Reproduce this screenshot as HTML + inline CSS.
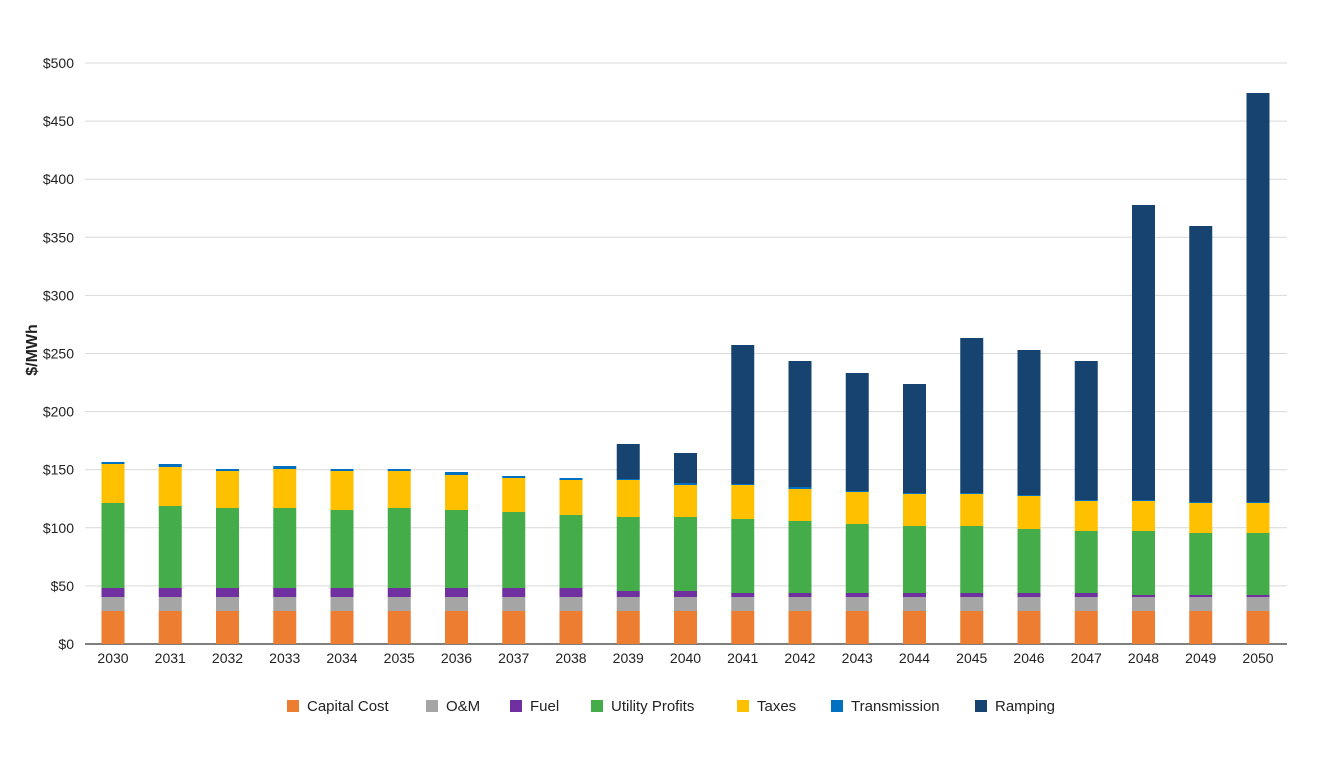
<!DOCTYPE html>
<html><head><meta charset="utf-8"><style>
body{margin:0;background:#fff;font-family:"Liberation Sans",sans-serif}
svg text{font-family:"Liberation Sans",sans-serif;fill:#222}
</style></head><body>
<svg id="s" width="1320" height="755" xmlns="http://www.w3.org/2000/svg"></svg>
<script>
const s=document.getElementById('s');let h='';
for(let k=0;k<=10;k++){const y=644-58.1*k;
 if(k>0)h+=`<line x1="85" x2="1287" y1="${y}" y2="${y}" stroke="#d9d9d9" stroke-width="1"/>`;
 h+=`<text x="74" y="${y+5}" font-size="14" text-anchor="end">$${k*50}</text>`;}
h+=`<line x1="85" x2="1287" y1="644" y2="644" stroke="#333" stroke-width="1.2"/>`;
h+=`<text transform="translate(37,350) rotate(-90)" font-size="16" font-weight="bold" text-anchor="middle">$/MWh</text>`;
// [purpleTop, greenTop, yellowTop, transTop, rampTop]
const d=[[588,503,464,462,462],[588,506,467,464,464],[588,508,471,469,469],[588,508,469,466,466],[588,510,471,469,469],[588,508,471,469,469],[588,510,475,472,472],[588,512,478,476,476],[588,515,480,478,478],
[591,517,480,479,444],[591,517,485,483,453],[593,519,485,484,345],[593,521,489,487,361],[593,524,492,491,373],[593,526,494,493,384],[593,526,494,493,338],[593,529,496,495,350],[593,531,501,500,361],[595,531,501,500,205],[595,533,503,502,226],[595,533,503,502,93]];
const c=['#ED7D31','#A5A5A5','#7030A0','#44AD4A','#FFC000','#0070C0','#16436F'];
d.forEach((v,i)=>{const cx=113+57.25*i,x=cx-11.5;const t=[644,611,597,v[0],v[1],v[2],v[3],v[4]];
 for(let j=0;j<7;j++){const hh=t[j]-t[j+1];if(hh>0)h+=`<rect x="${x}" y="${t[j+1]}" width="23" height="${hh}" fill="${c[j]}"/>`;}
 h+=`<text x="${cx}" y="663" font-size="14" text-anchor="middle">${2030+i}</text>`;});
const L=[['Capital Cost',287],['O&amp;M',426],['Fuel',510],['Utility Profits',591],['Taxes',737],['Transmission',831],['Ramping',975]];
L.forEach((l,i)=>{h+=`<rect x="${l[1]}" y="700" width="12" height="12" fill="${c[i]}"/><text x="${l[1]+20}" y="711" font-size="15">${l[0]}</text>`;});
s.innerHTML=h;
</script>
</body></html>
